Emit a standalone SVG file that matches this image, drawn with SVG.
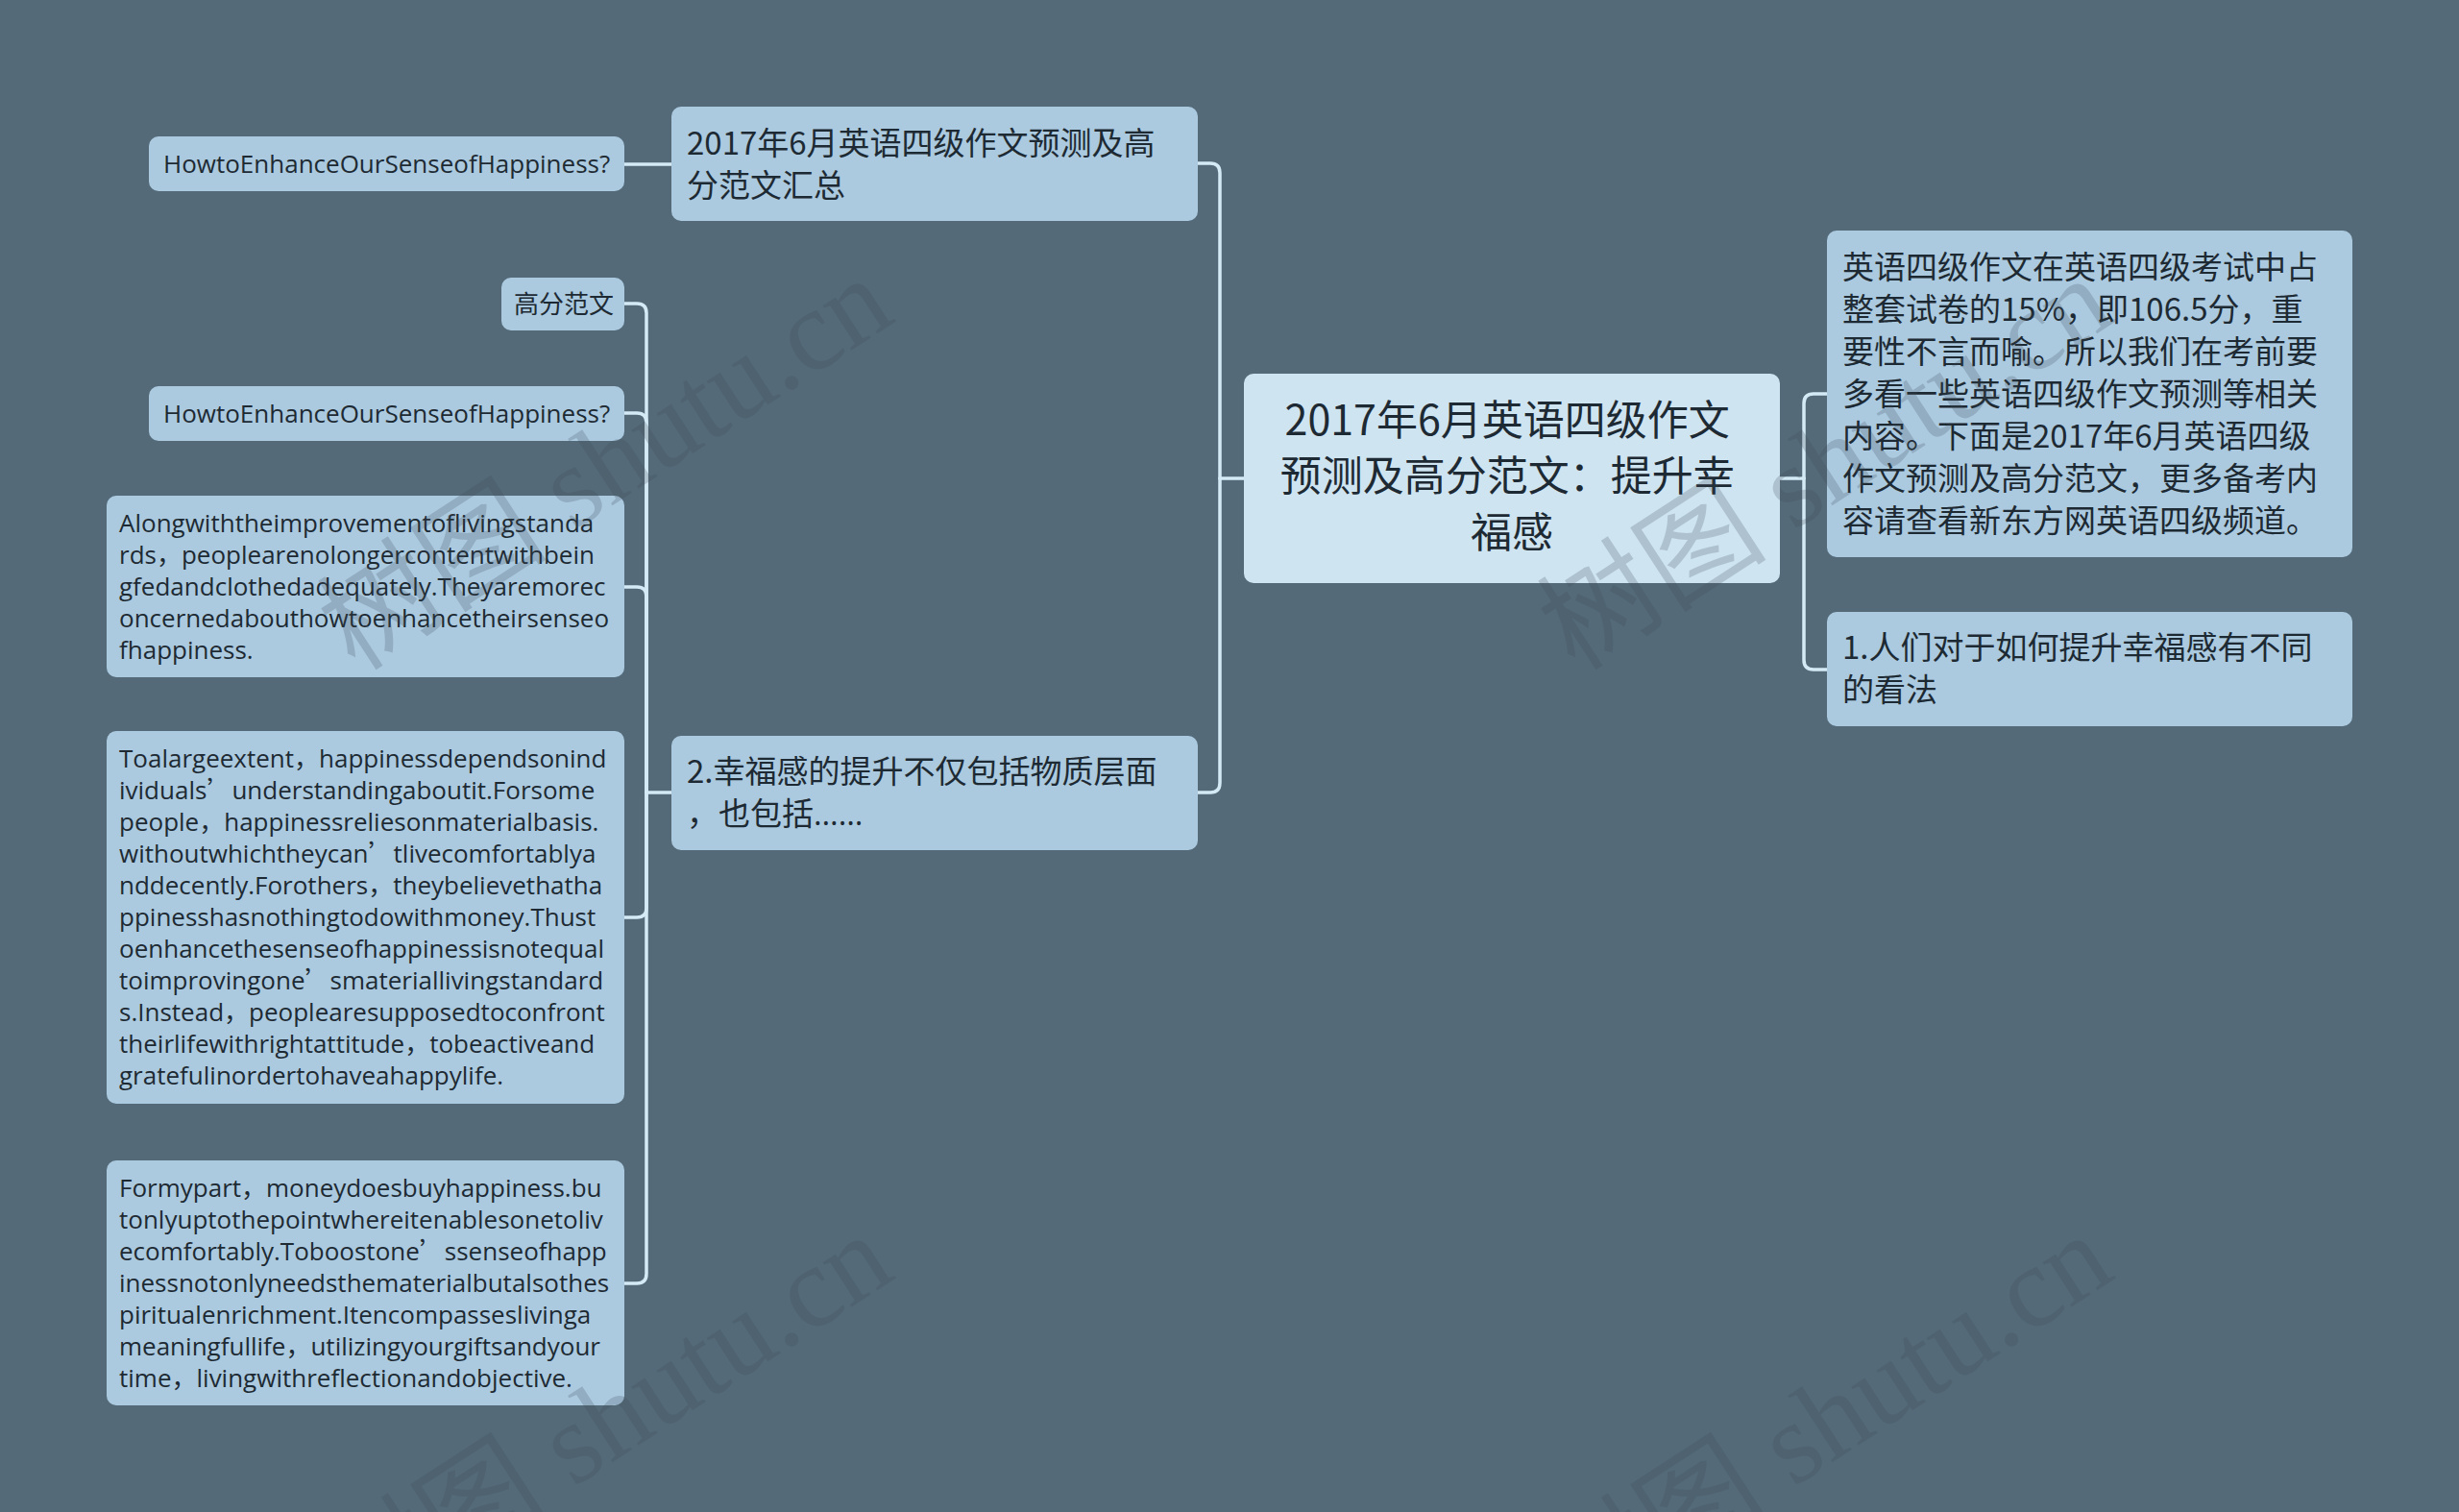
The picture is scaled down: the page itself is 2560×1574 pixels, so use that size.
<svg xmlns="http://www.w3.org/2000/svg" width="2560" height="1574" viewBox="0 0 2560 1574">
<style>
.bg{fill:#546a79}
.node{fill:#abcae0}
.root{fill:#cee4f1}
.t{fill:#1e2a33;font-family:"Noto Sans CJK SC","Noto Sans",sans-serif}
.c33{font-size:33px}
.c43{font-size:43px}
.en{fill:#1e2a33;font-family:"Open Sans","Noto Sans CJK SC",sans-serif;font-size:26px}
.cjk{font-family:"Noto Sans CJK SC",sans-serif}
.lat{font-family:"Open Sans",sans-serif}
.conn{fill:none;stroke:#d4ebf6;stroke-width:3.5;stroke-linecap:round}
.wm{fill:#3c4855;opacity:0.22;font-family:"Liberation Serif","Noto Sans CJK SC",serif;font-size:120px}
</style>
<rect class="bg" x="0" y="0" width="2560" height="1574"/>

<g id="connectors">
  <path class="conn" d="M1295,498 H1270"/>
  <path class="conn" d="M1247,170 H1260 Q1270,170 1270,180 V498"/>
  <path class="conn" d="M1247,825 H1260 Q1270,825 1270,815 V498"/>
  <path class="conn" d="M1853,498 H1878"/>
  <path class="conn" d="M1902,410 H1888 Q1878,410 1878,420 V498"/>
  <path class="conn" d="M1902,697 H1888 Q1878,697 1878,687 V498"/>
  <path class="conn" d="M650,171 H699"/>
  <path class="conn" d="M699,825 H673"/>
  <path class="conn" d="M650,316 H663 Q673,316 673,326 V825"/>
  <path class="conn" d="M650,430 H663 Q673,430 673,440 V825"/>
  <path class="conn" d="M650,611 H663 Q673,611 673,621 V825"/>
  <path class="conn" d="M650,955 H663 Q673,955 673,945 V825"/>
  <path class="conn" d="M650,1336 H663 Q673,1336 673,1326 V825"/>
</g>

<g id="root">
  <rect class="root" x="1295" y="389" width="558" height="218" rx="10"/>
  <text class="t c43" text-anchor="middle">
    <tspan x="1574" y="453">2017年6月英语四级作文</tspan>
    <tspan x="1574" y="511">预测及高分范文：提升幸</tspan>
    <tspan x="1574" y="570">福感</tspan>
  </text>
</g>

<g id="intro">
  <rect class="node" x="1902" y="240" width="547" height="340" rx="10"/>
  <text class="t c33">
    <tspan x="1918" y="290">英语四级作文在英语四级考试中占</tspan>
    <tspan x="1918" y="334">整套试卷的15%，即106.5分，重</tspan>
    <tspan x="1918" y="378">要性不言而喻。所以我们在考前要</tspan>
    <tspan x="1918" y="422">多看一些英语四级作文预测等相关</tspan>
    <tspan x="1918" y="466">内容。下面是2017年6月英语四级</tspan>
    <tspan x="1918" y="510">作文预测及高分范文，更多备考内</tspan>
    <tspan x="1918" y="554">容请查看新东方网英语四级频道。</tspan>
  </text>
</g>

<g id="point1">
  <rect class="node" x="1902" y="637" width="547" height="119" rx="10"/>
  <text class="t c33">
    <tspan x="1918" y="686">1.人们对于如何提升幸福感有不同</tspan>
    <tspan x="1918" y="730">的看法</tspan>
  </text>
</g>

<g id="summary">
  <rect class="node" x="699" y="111" width="548" height="119" rx="10"/>
  <text class="t c33">
    <tspan x="715" y="161">2017年6月英语四级作文预测及高</tspan>
    <tspan x="715" y="205">分范文汇总</tspan>
  </text>
</g>

<g id="summary-title">
  <rect class="node" x="155" y="142" width="495" height="57" rx="10"/>
  <text class="en" x="170" y="180">HowtoEnhanceOurSenseofHappiness?</text>
</g>

<g id="point2">
  <rect class="node" x="699" y="766" width="548" height="119" rx="10"/>
  <text class="t c33">
    <tspan x="715" y="815">2.幸福感的提升不仅包括物质层面</tspan>
    <tspan x="715" y="859">，也包括<tspan class="lat">……</tspan></tspan>
  </text>
</g>

<g id="sample-label">
  <rect class="node" x="522" y="289" width="128" height="55" rx="10"/>
  <text class="t" style="font-size:26px" x="535" y="326">高分范文</text>
</g>

<g id="sample-title">
  <rect class="node" x="155" y="402" width="495" height="57" rx="10"/>
  <text class="en" x="170" y="440">HowtoEnhanceOurSenseofHappiness?</text>
</g>

<g id="para1">
  <rect class="node" x="111" y="516" width="539" height="189" rx="10"/>
  <text class="en">
    <tspan x="124" y="554">Alongwiththeimprovementoflivingstanda</tspan>
    <tspan x="124" y="587">rds，peoplearenolongercontentwithbein</tspan>
    <tspan x="124" y="620">gfedandclothedadequately.Theyaremorec</tspan>
    <tspan x="124" y="653">oncernedabouthowtoenhancetheirsenseo</tspan>
    <tspan x="124" y="686">fhappiness.</tspan>
  </text>
</g>

<g id="para2">
  <rect class="node" x="111" y="761" width="539" height="388" rx="10"/>
  <text class="en">
    <tspan x="124" y="799">Toalargeextent，happinessdependsonind</tspan>
    <tspan x="124" y="832">ividuals<tspan class="cjk">’</tspan>understandingaboutit.Forsome</tspan>
    <tspan x="124" y="865">people，happinessreliesonmaterialbasis.</tspan>
    <tspan x="124" y="898">withoutwhichtheycan<tspan class="cjk">’</tspan>tlivecomfortablya</tspan>
    <tspan x="124" y="931">nddecently.Forothers，theybelievethatha</tspan>
    <tspan x="124" y="964">ppinesshasnothingtodowithmoney.Thust</tspan>
    <tspan x="124" y="997">oenhancethesenseofhappinessisnotequal</tspan>
    <tspan x="124" y="1030">toimprovingone<tspan class="cjk">’</tspan>smateriallivingstandard</tspan>
    <tspan x="124" y="1063">s.Instead，peoplearesupposedtoconfront</tspan>
    <tspan x="124" y="1096">theirlifewithrightattitude，tobeactiveand</tspan>
    <tspan x="124" y="1129">gratefulinordertohaveahappylife.</tspan>
  </text>
</g>

<g id="para3">
  <rect class="node" x="111" y="1208" width="539" height="255" rx="10"/>
  <text class="en">
    <tspan x="124" y="1246">Formypart，moneydoesbuyhappiness.bu</tspan>
    <tspan x="124" y="1279">tonlyuptothepointwhereitenablesonetoliv</tspan>
    <tspan x="124" y="1312">ecomfortably.Toboostone<tspan class="cjk">’</tspan>ssenseofhapp</tspan>
    <tspan x="124" y="1345">inessnotonlyneedsthematerialbutalsothes</tspan>
    <tspan x="124" y="1378">piritualenrichment.Itencompasseslivinga</tspan>
    <tspan x="124" y="1411">meaningfullife，utilizingyourgiftsandyour</tspan>
    <tspan x="124" y="1444">time，livingwithreflectionandobjective.</tspan>
  </text>
</g>

<g id="watermarks">
  <text class="wm" transform="translate(370,700) rotate(-33)">树图 shutu.cn</text>
  <text class="wm" transform="translate(1640,700) rotate(-33)">树图 shutu.cn</text>
  <text class="wm" transform="translate(370,1696) rotate(-33)">树图 shutu.cn</text>
  <text class="wm" transform="translate(1640,1696) rotate(-33)">树图 shutu.cn</text>
</g>
</svg>
